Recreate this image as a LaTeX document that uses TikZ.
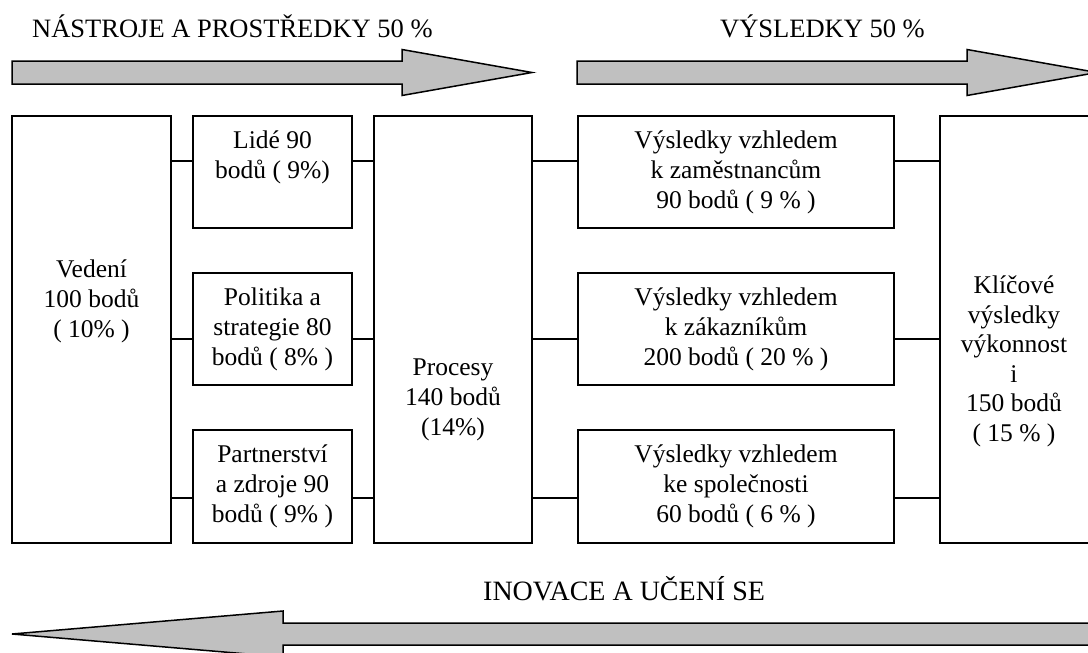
\documentclass[tikz,border=0pt]{standalone}
\usepackage{fontspec}
\setmainfont{Liberation Serif}
\definecolor{arrowgray}{HTML}{C0C0C0}
\begin{document}
\begin{tikzpicture}[x=1pt,y=-1pt,
  box/.style={draw, line width=1.8pt, inner sep=0pt, outer sep=0pt},
  txt/.style={inner sep=0pt, align=center, anchor=north,
              font=\fontsize{25.5pt}{30pt}\selectfont},
  tallTxt/.style={txt, font=\fontsize{25.5pt}{29.5pt}\selectfont},
  heading/.style={inner sep=0pt, anchor=base west,
              font=\fontsize{26.5pt}{30pt}\selectfont},
  link/.style={line width=1.6pt},
  bigarrow/.style={draw, line width=1.5pt, fill=arrowgray, line join=miter}]
\useasboundingbox (0,0) rectangle (1088,653);
\clip (0,0) rectangle (1088,653);

% headings
\node[heading] (h1) at (32,37) {NÁSTROJE A PROSTŘEDKY 50 \%};
\node[heading] (h2) at (720,37) {VÝSLEDKY 50 \%};
\node[heading, font=\fontsize{28pt}{30pt}\selectfont] (h3) at (483,600) {INOVACE A UČENÍ SE};

% flow arrows
\draw[bigarrow] (12,61) -- (402,61) -- (402,49.5) -- (532,72.5) -- (402,95.5)
  -- (402,84) -- (12,84) -- cycle;
\draw[bigarrow] (577,61) -- (967,61) -- (967,49.5) -- (1097,72.5) -- (967,95.5)
  -- (967,84) -- (577,84) -- cycle;
\draw[bigarrow] (12,634) -- (283,611) -- (283,623) -- (1100,623) -- (1100,645)
  -- (283,645) -- (283,657) -- cycle;

% boxes
\node[box, minimum width=159pt, minimum height=427pt] (ved)  at (91.5,329.5) {};
\node[box, minimum width=159pt, minimum height=112pt] (lide) at (272.5,172) {};
\node[box, minimum width=159pt, minimum height=112pt] (pol)  at (272.5,329) {};
\node[box, minimum width=159pt, minimum height=113pt] (part) at (272.5,486.5) {};
\node[box, minimum width=158pt, minimum height=427pt] (proc) at (453,329.5) {};
\node[box, minimum width=316pt, minimum height=112pt] (v1)   at (736,172) {};
\node[box, minimum width=316pt, minimum height=112pt] (v2)   at (736,329) {};
\node[box, minimum width=316pt, minimum height=113pt] (v3)   at (736,486.5) {};
\node[box, minimum width=150pt, minimum height=427pt] (klic) at (1015,329.5) {};

% box texts
\node[txt] (ved-t)  at (91.5,256)  {\strut Vedení\\100 bodů\\( 10\% )};
\node[txt] (lide-t) at (272.5,127) {\strut Lidé 90\\bodů ( 9\%)};
\node[txt] (pol-t)  at (272.5,284) {\strut Politika a\\strategie 80\\bodů ( 8\% )};
\node[txt] (part-t) at (272.5,441) {\strut Partnerství\\a zdroje 90\\bodů ( 9\% )};
\node[txt] (proc-t) at (453,354)   {\strut Procesy\\140 bodů\\(14\%)};
\node[txt] (v1-t)   at (736,127)   {\strut Výsledky vzhledem\\k zaměstnancům\\90 bodů ( 9 \% )};
\node[txt] (v2-t)   at (736,284)   {\strut Výsledky vzhledem\\k zákazníkům\\200 bodů ( 20 \% )};
\node[txt] (v3-t)   at (736,441)   {\strut Výsledky vzhledem\\ke společnosti\\60 bodů ( 6 \% )};
\node[tallTxt] (klic-t) at (1014,273) {\strut Klíčové\\výsledky\\výkonnost\\i\\150 bodů\\( 15 \% )};

% connector rows
\coordinate (r1) at (0,161);
\coordinate (r2) at (0,339);
\coordinate (r3) at (0,498);

\draw[link] (ved.east |- r1) -- (lide.west |- r1);
\draw[link] (ved.east |- r2) -- (pol.west |- r2);
\draw[link] (ved.east |- r3) -- (part.west |- r3);
\draw[link] (lide.east |- r1) -- (proc.west |- r1);
\draw[link] (pol.east |- r2) -- (proc.west |- r2);
\draw[link] (part.east |- r3) -- (proc.west |- r3);
\draw[link] (proc.east |- r1) -- (v1.west |- r1);
\draw[link] (proc.east |- r2) -- (v2.west |- r2);
\draw[link] (proc.east |- r3) -- (v3.west |- r3);
\draw[link] (v1.east |- r1) -- (klic.west |- r1);
\draw[link] (v2.east |- r2) -- (klic.west |- r2);
\draw[link] (v3.east |- r3) -- (klic.west |- r3);
\end{tikzpicture}
\end{document}
